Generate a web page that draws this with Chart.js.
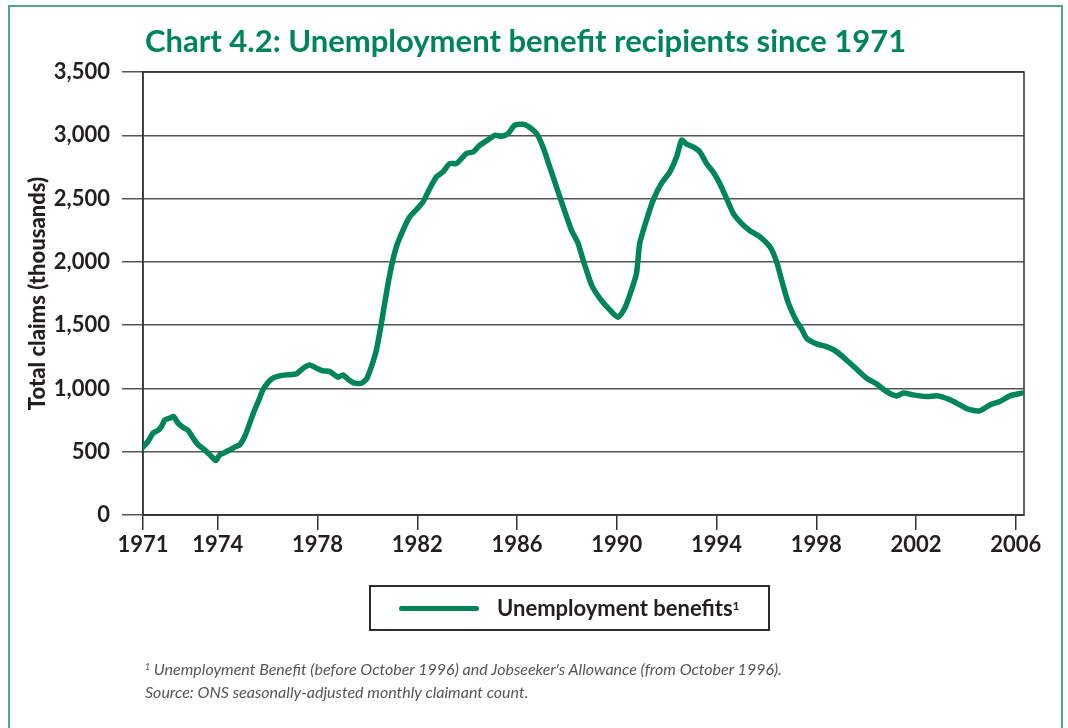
<!DOCTYPE html>
<html>
<head>
<meta charset="utf-8">
<script src="https://cdn.jsdelivr.net/npm/chart.js@4"></script>
<style>
  html, body { margin: 0; padding: 0; background: #fff; }
  #page { position: relative; width: 1068px; height: 728px; overflow: hidden; font-family: Lato, "Noto Sans", sans-serif; }
  #frame { position: absolute; left: 8px; top: 5px; width: 1055px; height: 740px; border: 2px solid #52a884; box-sizing: border-box; }
  #chart { position: absolute; left: 0; top: 0; }
  #title { position: absolute; left: 145px; top: 22px; font-size: 31px; line-height: 36px; font-weight: 700; color: #00855a; white-space: nowrap; }
  #legend { position: absolute; left: 369px; top: 585px; width: 401px; height: 46px; border: 2px solid #2b2b2b; box-sizing: border-box; }
  #legend .swatch { position: absolute; left: 28px; top: 19px; width: 80px; height: 5px; border-radius: 3px; }
  #legend .label { position: absolute; left: 126px; top: 7px; font-size: 22px; line-height: 28px; font-weight: 700; color: #231f20; white-space: nowrap; }
  #legend sup, #notes sup { font-size: 55%; vertical-align: top; position: relative; top: -2px; }
  #notes { position: absolute; left: 145px; top: 657px; font-size: 16px; line-height: 23px; font-style: italic; color: #555; white-space: nowrap; }
</style>
</head>
<body>
<div id="page">
  <div id="frame"></div>
  <canvas id="chart" width="1068" height="728"></canvas>
  <div id="title">Chart 4.2: Unemployment benefit recipients since 1971</div>
  <div id="legend"><div class="swatch"></div><div class="label"></div></div>
  <div id="notes">
    <div><sup>1</sup> Unemployment Benefit (before October 1996) and Jobseeker's Allowance (from October 1996).</div>
    <div>Source: ONS seasonally-adjusted monthly claimant count.</div>
  </div>
</div>
<script>
// ---------- DATA ----------

const seriesName = "Unemployment benefits";
const lineColor = "#00845a";

const tickYears = [1971, 1974, 1978, 1982, 1986, 1990, 1994, 1998, 2002, 2006];
const yTicks = [0, 500, 1000, 1500, 2000, 2500, 3000, 3500];

// claimant count in thousands
const years = [
  1971.00, 1971.20, 1971.40, 1971.60, 1971.74, 1971.87, 1972.07, 1972.23, 1972.40, 1972.60,
  1972.81, 1973.01, 1973.21, 1973.47, 1973.68, 1973.92, 1974.08, 1974.28, 1974.48, 1974.68,
  1974.88, 1975.08, 1975.28, 1975.48, 1975.65, 1975.81, 1976.01, 1976.21, 1976.48, 1976.75,
  1977.15, 1977.42, 1977.69, 1977.96, 1978.22, 1978.49, 1978.82, 1979.02, 1979.22, 1979.49,
  1979.76, 1979.96, 1980.16, 1980.36, 1980.56, 1980.76, 1980.96, 1981.16, 1981.43, 1981.70,
  1981.97, 1982.23, 1982.50, 1982.77, 1983.03, 1983.30, 1983.57, 1983.97, 1984.24, 1984.51,
  1984.77, 1985.11, 1985.38, 1985.64, 1985.91, 1986.24, 1986.44, 1986.78, 1987.04, 1987.31,
  1987.58, 1987.85, 1988.18, 1988.45, 1988.65, 1988.99, 1989.32, 1989.72, 1990.05, 1990.32,
  1990.59, 1990.79, 1990.92, 1991.19, 1991.46, 1991.79, 1992.13, 1992.40, 1992.60, 1992.80,
  1993.06, 1993.33, 1993.60, 1993.86, 1994.13, 1994.40, 1994.67, 1995.00, 1995.34, 1995.74,
  1996.14, 1996.41, 1996.61, 1996.87, 1997.21, 1997.41, 1997.61, 1998.01, 1998.41, 1998.81,
  1999.21, 1999.62, 2000.02, 2000.42, 2000.82, 2001.22, 2001.49, 2001.89, 2002.42, 2002.89,
  2003.36, 2003.76, 2004.09, 2004.56, 2004.96, 2005.36, 2005.76, 2006.23
];
const claims = [
  536, 581, 647, 668, 699, 752, 765, 778, 726, 694,
  668, 607, 555, 515, 476, 431, 476, 494, 515, 536,
  555, 620, 726, 831, 910, 989, 1046, 1081, 1099, 1107,
  1115, 1160, 1186, 1160, 1139, 1133, 1089, 1107, 1073, 1041,
  1041, 1073, 1172, 1304, 1515, 1752, 1962, 2119, 2251, 2356,
  2414, 2474, 2580, 2672, 2711, 2777, 2777, 2856, 2869, 2922,
  2956, 3000, 2993, 3014, 3080, 3087, 3072, 3014, 2908, 2750,
  2593, 2435, 2251, 2146, 2014, 1817, 1712, 1620, 1562, 1633,
  1778, 1909, 2146, 2330, 2488, 2620, 2711, 2830, 2961, 2930,
  2908, 2869, 2777, 2711, 2620, 2501, 2383, 2304, 2246, 2198,
  2119, 2000, 1857, 1680, 1530, 1470, 1397, 1352, 1330, 1291,
  1225, 1152, 1081, 1036, 975, 941, 963, 949, 936, 941,
  910, 870, 836, 823, 870, 896, 941, 963
];

// ---------- LEGEND ----------

document.querySelector("#legend .swatch").style.background = lineColor;
document.querySelector("#legend .label").innerHTML = seriesName + "<sup>1</sup>";

// ---------- CHART ----------

const axisText = "#231f20";
const gridColor = "#555";

// box round the plot area (top and right sides are not drawn by the axes)
const frameBox = {
  id: "frameBox",
  beforeDatasetsDraw(chart) {
    const { ctx, chartArea: a } = chart;
    ctx.save();
    ctx.strokeStyle = "#333";
    ctx.lineWidth = 1.5;
    ctx.strokeRect(a.left, a.top, a.right - a.left, a.bottom - a.top);
    ctx.restore();
  }
};

new Chart(document.getElementById("chart"), {
  type: "line",
  data: {
    datasets: [
      {
        label: seriesName,
        data: years.map((y, i) => ({ x: y, y: claims[i] })),
        borderColor: lineColor,
        backgroundColor: lineColor,
        borderWidth: 5.5,
        borderJoinStyle: "round",
        borderCapStyle: "round",
        tension: 0.2,
        pointRadius: 0,
        fill: false
      }
    ]
  },
  options: {
    responsive: false,
    animation: false,
    devicePixelRatio: 1,
    layout: { padding: { left: 20, right: 44, top: 72, bottom: 153 } },
    plugins: {
      legend: { display: false },
      title: { display: false },
      tooltip: { enabled: false }
    },
    scales: {
      x: {
        type: "linear",
        min: 1971,
        max: 2006.33,
        afterFit: s => { s.height = 60; },
        afterBuildTicks: s => { s.ticks = tickYears.map(v => ({ value: v })); },
        grid: { drawOnChartArea: false, drawTicks: true, tickLength: 15, color: "#333", lineWidth: 1.5 },
        border: { display: true, color: "#333", width: 1.5 },
        ticks: {
          autoSkip: false,
          maxRotation: 0,
          padding: 2,
          color: axisText,
          font: { family: "Lato", weight: "bold", size: 22 },
          callback: v => String(v)
        }
      },
      y: {
        min: 0,
        max: 3500,
        afterFit: s => { s.width = 123; },
        afterBuildTicks: s => { s.ticks = yTicks.map(v => ({ value: v })); },
        grid: { color: gridColor, lineWidth: 1.5, drawTicks: true, tickLength: 21 },
        border: { display: true, color: "#333", width: 1.5 },
        ticks: {
          padding: 12,
          color: axisText,
          font: { family: "Lato", weight: "bold", size: 22 },
          callback: v => v.toLocaleString("en-GB")
        },
        title: {
          display: true,
          text: "Total claims (thousands)",
          color: axisText,
          padding: { top: 5, bottom: 0 },
          font: { family: "Lato", weight: "900", size: 22, lineHeight: 1.2 }
        }
      }
    }
  },
  plugins: [frameBox]
});
</script>
</body>
</html>
